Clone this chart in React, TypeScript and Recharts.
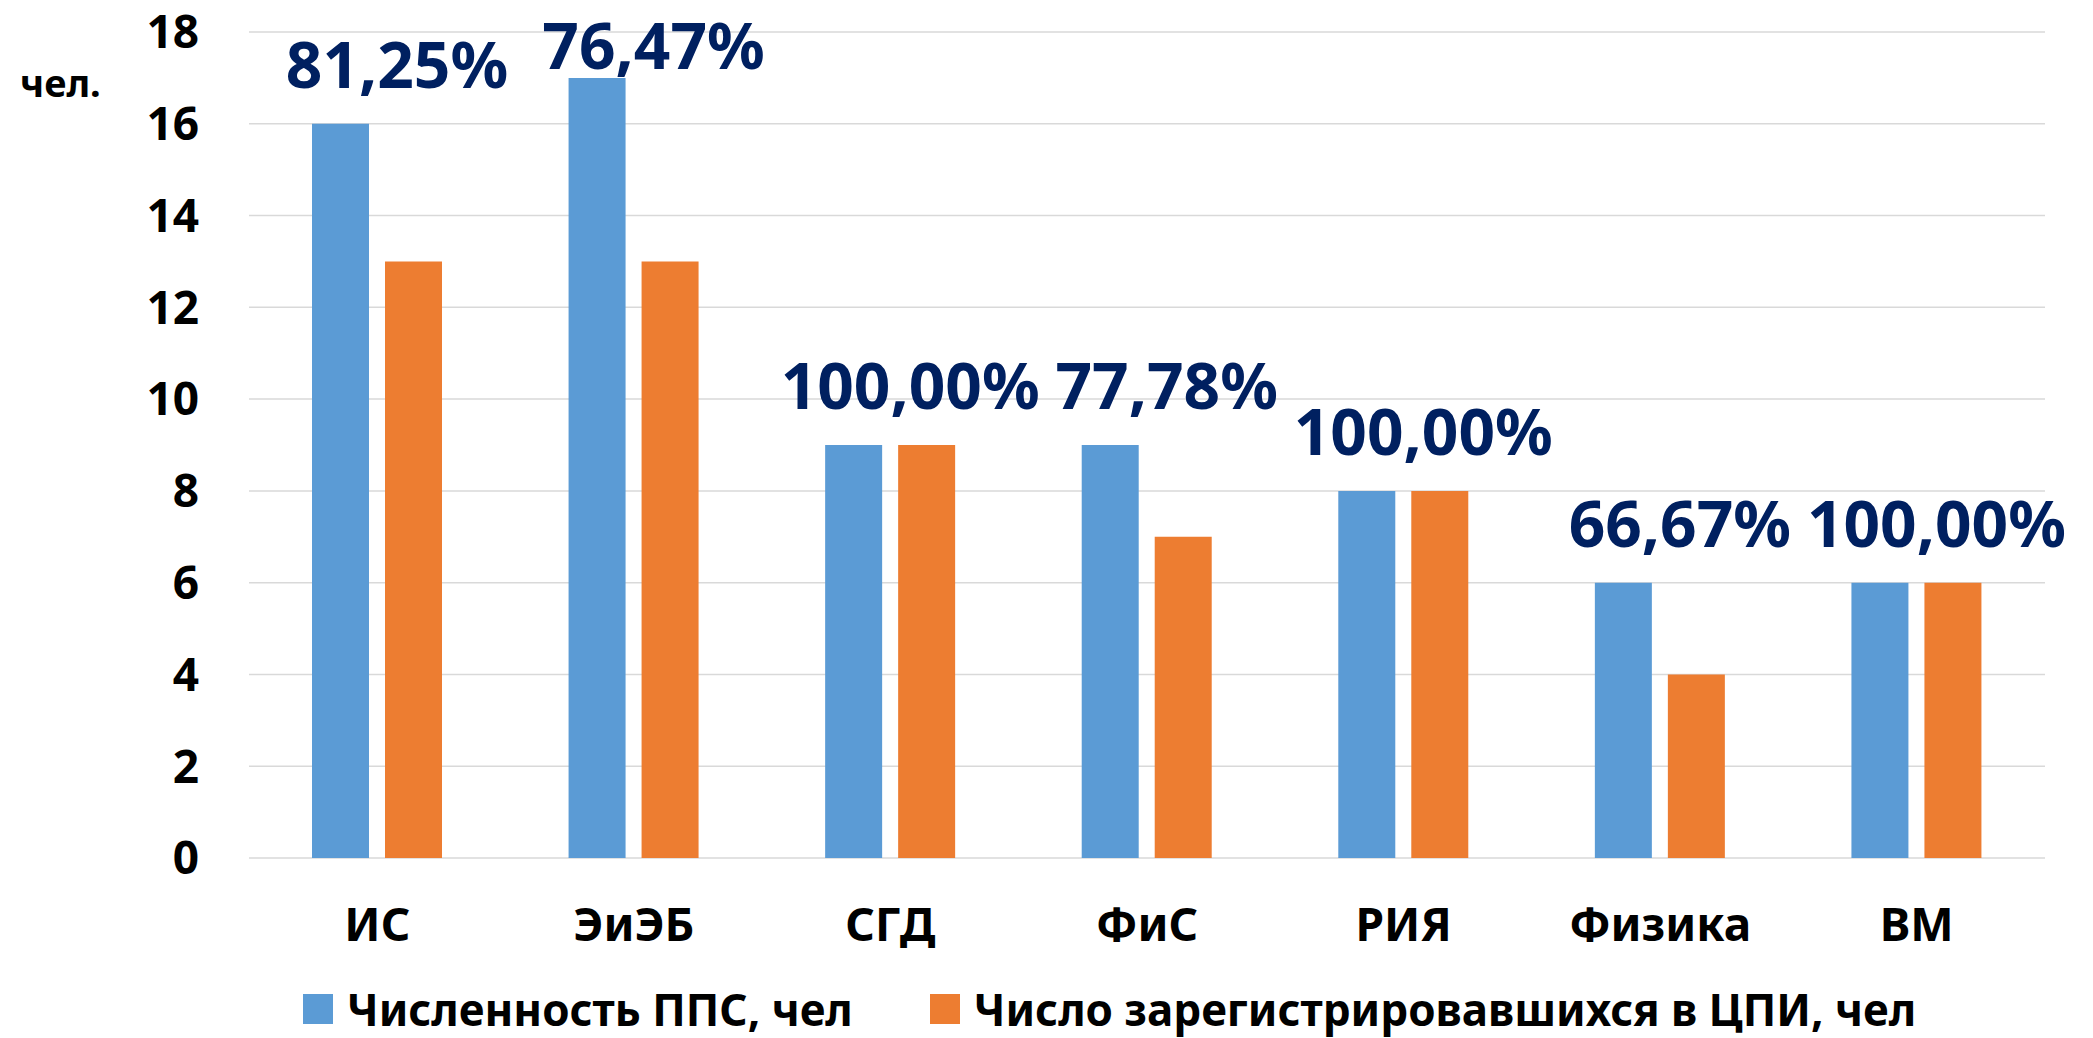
import { BarChart, Bar, XAxis, YAxis, CartesianGrid, Legend, LabelList } from 'recharts';

const categories = ['ИС', 'ЭиЭБ', 'СГД', 'ФиС', 'РИЯ', 'Физика', 'ВМ'];
const staffCount = [16, 17, 9, 9, 8, 6, 6];
const registeredCount = [13, 13, 9, 7, 8, 4, 6];
const shareLabels = ['81,25%', '76,47%', '100,00%', '77,78%', '100,00%', '66,67%', '100,00%'];
const yTicks = [0, 2, 4, 6, 8, 10, 12, 14, 16, 18];

const seriesNames = ['Численность ППС, чел', 'Число зарегистрировавшихся в ЦПИ, чел'];
const BLUE = '#5B9BD5';
const ORANGE = '#ED7D31';
const FONT = '"Noto Sans", sans-serif';

const data = categories.map((name, i) => ({
  name,
  staff: staffCount[i],
  registered: registeredCount[i],
}));

// percent label sits above the pair, a bit right of the category centre
const ShareLabel = (props: any) => {
  const { x, y, width, index } = props;
  const cx = Number(x) + Number(width) + 8 + 20;
  const ty = Math.max(Number(y) - 36, 69);
  return (
    <text
      x={cx}
      y={ty}
      textAnchor="middle"
      fill="#002060"
      fontFamily={FONT}
      fontWeight={700}
      fontSize={64}
    >
      {shareLabels[index]}
    </text>
  );
};

const UnitLabel = (props: any) => {
  const vb = props.viewBox || { x: 0, y: 0 };
  return (
    <text x={vb.x + 20} y={vb.y + 65} fill="#000" fontFamily={FONT} fontWeight={700} fontSize={38}>
      чел.
    </text>
  );
};

const LegendContent = () => (
  <div style={{ display: 'flex', alignItems: 'center', fontFamily: FONT, fontWeight: 700, fontSize: 44, lineHeight: '46px', color: '#000', whiteSpace: 'nowrap' }}>
    {seriesNames.map((n, i) => (
      <div key={n} style={{ display: 'flex', alignItems: 'center', marginRight: i === 0 ? 77 : 0 }}>
        <span style={{ display: 'inline-block', width: 30, height: 30, background: i === 0 ? BLUE : ORANGE, marginRight: 14 }} />
        <span>{n}</span>
      </div>
    ))}
  </div>
);

export default function App() {
  return (
    <div style={{ position: 'absolute', left: 0, top: 0, background: '#fff' }}>
      <BarChart
        width={2093}
        height={1038}
        data={data}
        margin={{ top: 32, right: 48, bottom: 150, left: 0 }}
        barSize={57}
        barGap={16}
      >
        <CartesianGrid vertical={false} stroke="#d9d9d9" strokeWidth={1.5} />
        <XAxis
          dataKey="name"
          height={30}
          axisLine={false}
          tickLine={false}
          tickSize={0}
          tickMargin={50}
          tick={{ fill: '#000', fontSize: 46, fontWeight: 700, fontFamily: FONT }}
          interval={0}
        />
        <YAxis
          width={249}
          domain={[0, 18]}
          ticks={yTicks}
          axisLine={false}
          tickLine={false}
          tickSize={0}
          tickMargin={50}
          tick={{ fill: '#000', fontSize: 46, fontWeight: 700, fontFamily: FONT }}
          label={<UnitLabel />}
        />
        <Legend
          verticalAlign="middle"
          align="center"
          content={<LegendContent />}
          wrapperStyle={{ left: 303, top: 986, width: 1750, height: 46 }}
        />
        <Bar dataKey="staff" name={seriesNames[0]} fill={BLUE} isAnimationActive={false}>
          <LabelList dataKey="staff" content={<ShareLabel />} />
        </Bar>
        <Bar dataKey="registered" name={seriesNames[1]} fill={ORANGE} isAnimationActive={false} />
      </BarChart>
    </div>
  );
}
